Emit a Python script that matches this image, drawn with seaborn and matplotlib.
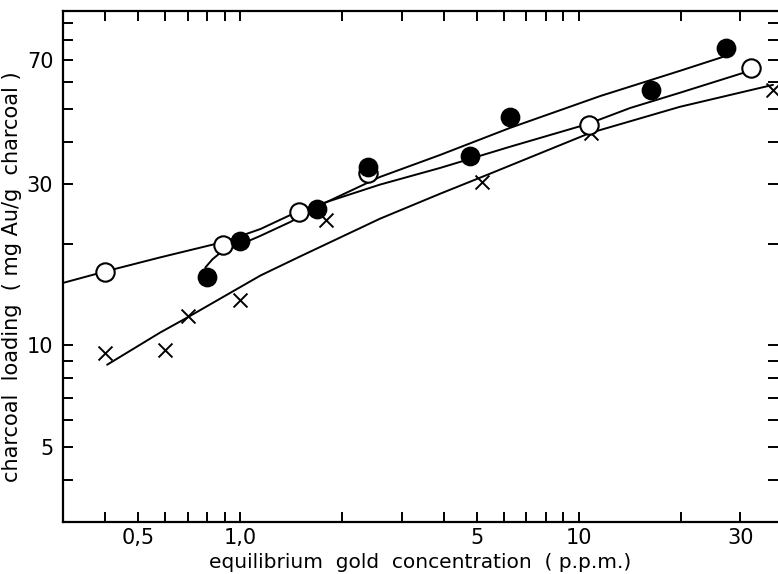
import matplotlib
matplotlib.use("Agg")
import matplotlib.pyplot as plt
from matplotlib.ticker import FixedLocator, FixedFormatter, NullFormatter
import seaborn as sns
import pandas as pd

# ---- measured points ----
filled_x = [0.80, 1.00, 1.69, 2.39, 4.78, 6.27, 16.4, 27.2]
filled_y = [15.9, 20.4, 25.4, 33.8, 36.4, 47.3, 57.0, 76.0]
open_x = [0.40, 0.89, 1.49, 2.39, 10.7, 32.4]
open_y = [16.5, 19.8, 24.8, 32.3, 44.9, 66.4]
cross_x = [0.40, 0.60, 0.70, 1.00, 1.79, 5.17, 10.9, 37.5]
cross_y = [9.5, 9.7, 12.2, 13.6, 23.5, 30.5, 42.4, 57.0]

# ---- hand-drawn fitted curves ----
filled_curve_x = [0.79, 0.83, 0.87, 1.15, 1.41, 1.69, 1.81, 2.59, 3.90, 6.27, 11.6, 19.9, 26.7]
filled_curve_y = [17.0, 18.0, 18.7, 21.1, 23.2, 25.7, 26.6, 31.5, 36.6, 44.0, 54.7, 64.9, 71.4]
open_curve_x = [0.30, 0.405, 0.58, 0.89, 1.15, 1.47, 1.81, 2.59, 3.90, 6.27, 10.65, 14.2, 19.9, 30.6]
open_curve_y = [15.3, 16.6, 18.2, 20.2, 22.1, 24.8, 26.6, 29.9, 33.5, 38.7, 45.2, 50.4, 55.9, 64.0]
cross_curve_x = [0.405, 0.58, 0.70, 1.15, 1.50, 2.59, 3.90, 5.47, 10.8, 19.9, 37.5]
cross_curve_y = [8.76, 10.9, 12.1, 16.1, 18.3, 23.7, 28.1, 32.2, 42.5, 50.8, 59.0]

# ---- axis ticks ----
x_major = [0.5, 1.0, 5, 10, 30]
x_major_labels = ["0,5", "1,0", "5", "10", "30"]
x_minor = [0.4, 0.6, 0.7, 0.8, 0.9, 2, 3, 4, 6, 7, 8, 9, 20]
y_major = [5, 10, 30, 70]
y_major_labels = ["5", "10", "30", "70"]
y_minor = [4, 6, 7, 8, 9, 20, 40, 50, 60, 80, 90]

sns.set_theme(style="ticks")
plt.rcParams["font.family"] = ["DejaVu Sans"]

fig = plt.figure(figsize=(7.78, 5.74), dpi=100)
ax = fig.add_axes([63 / 778, 52 / 574, 715 / 778, 511 / 574])
ax.set_xscale("log")
ax.set_yscale("log")

lw = 1.4
for cx, cy in [(filled_curve_x, filled_curve_y),
               (open_curve_x, open_curve_y),
               (cross_curve_x, cross_curve_y)]:
    sns.lineplot(x=cx, y=cy, sort=False, color="black", linewidth=lw, ax=ax)

sns.scatterplot(x=cross_x, y=cross_y, marker="x", s=100, color="black",
                linewidth=1.4, ax=ax, zorder=3)
sns.scatterplot(x=open_x, y=open_y, marker="o", s=175, facecolor="white",
                edgecolor="black", linewidth=1.5, ax=ax, zorder=4)
sns.scatterplot(x=filled_x, y=filled_y, marker="o", s=175, color="black",
                edgecolor="black", linewidth=1.0, ax=ax, zorder=4)

ax.set_xlim(0.3, 38.8)
ax.set_ylim(3.0, 97.6)

ax.xaxis.set_major_locator(FixedLocator(x_major))
ax.xaxis.set_major_formatter(FixedFormatter(x_major_labels))
ax.xaxis.set_minor_locator(FixedLocator(x_minor))
ax.xaxis.set_minor_formatter(NullFormatter())
ax.yaxis.set_major_locator(FixedLocator(y_major))
ax.yaxis.set_major_formatter(FixedFormatter(y_major_labels))
ax.yaxis.set_minor_locator(FixedLocator(y_minor))
ax.yaxis.set_minor_formatter(NullFormatter())

ax.tick_params(axis="both", which="both", direction="in", length=7,
               width=1.4, color="black", top=True, right=True,
               labelsize=15, labelcolor="black")
ax.tick_params(axis="x", which="both", pad=4)
ax.tick_params(axis="y", which="both", pad=7)

for side in ["left", "bottom", "top"]:
    ax.spines[side].set_linewidth(1.6)
    ax.spines[side].set_color("black")
ax.spines["right"].set_visible(False)

ax.set_xlabel("equilibrium  gold  concentration  ( p.p.m.)", fontsize=14.5,
              color="black", labelpad=4)
ax.set_ylabel("charcoal  loading  ( mg Au/g  charcoal )", fontsize=15,
              color="black")
ax.yaxis.set_label_coords(-0.058, 0.48)

fig.savefig("out.png", dpi=100, facecolor="white")
